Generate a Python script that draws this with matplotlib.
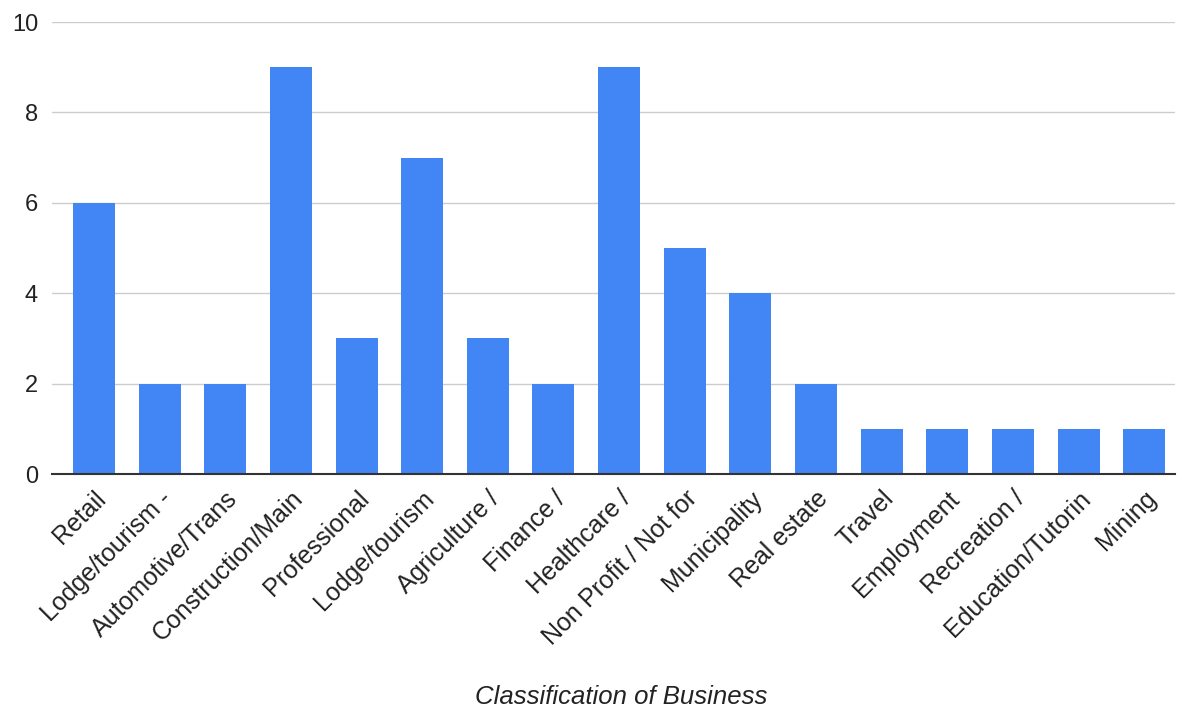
import matplotlib
matplotlib.use("Agg")
import matplotlib.pyplot as plt

categories = ["Retail", "Lodge/tourism -", "Automotive/Trans", "Construction/Main",
              "Professional", "Lodge/tourism", "Agriculture /", "Finance /",
              "Healthcare /", "Non Profit / Not for", "Municipality", "Real estate",
              "Travel", "Employment", "Recreation /", "Education/Tutorin", "Mining"]
values = [6, 2, 2, 9, 3, 7, 3, 2, 9, 5, 4, 2, 1, 1, 1, 1, 1]
yticks = [0, 2, 4, 6, 8, 10]

plt.rcParams['font.family'] = ['Liberation Sans', 'DejaVu Sans']

fig = plt.figure(figsize=(11.87, 7.11), dpi=100)
ax = fig.add_axes([0.0438, 0.3333, 0.9461, 0.6357])

x = list(range(len(categories)))
ax.bar(x, values, width=0.64, color="#4285F4", zorder=3)

ax.set_ylim(0, 10)
ax.set_xlim(-0.64, len(categories) - 1 + 0.47)
ax.set_yticks(yticks)
ax.set_yticklabels([str(v) for v in yticks], fontsize=17, color="#222222")
ax.set_xticks(x)
ax.set_xticklabels(categories, rotation=45, ha="right", va="top",
                   rotation_mode="anchor", fontsize=18, color="#222222")
ax.tick_params(axis="both", length=0)
ax.tick_params(axis="y", pad=10)
ax.tick_params(axis="x", pad=9)

ax.grid(axis="y", color="#cccccc", linewidth=1, zorder=0)
for s in ["top", "right", "left"]:
    ax.spines[s].set_visible(False)
ax.spines["bottom"].set_color("#333333")
ax.spines["bottom"].set_linewidth(1.5)
ax.spines["bottom"].set_zorder(4)

fig.text(0.523, 0.01, "Classification of Business", ha="center", va="baseline",
         fontsize=18.5, style="italic", color="#222222")

fig.savefig("out.png", dpi=100)
